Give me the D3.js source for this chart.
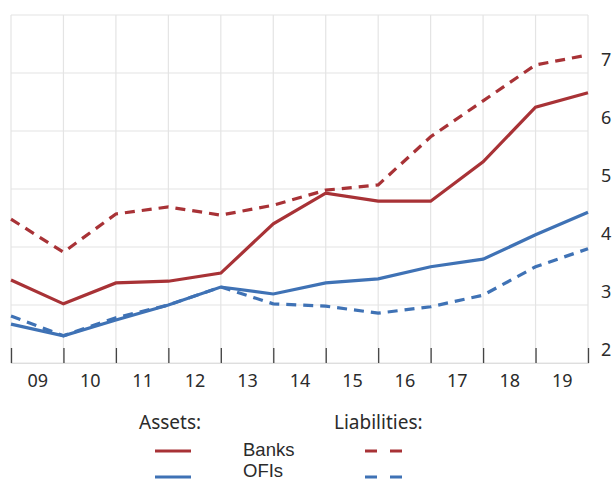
<!DOCTYPE html>
<html lang="en">
<head>
<meta charset="utf-8">
<title>Banks and OFIs</title>
<script src="https://cdn.jsdelivr.net/npm/d3@7"></script>
<style>
  body { margin: 0; background: #fff; overflow: hidden; }
  text { font-family: "Noto Sans", "Open Sans", sans-serif; fill: #2b2b2b; }
  text.legname { font-family: "Liberation Sans", Arial, sans-serif; }
</style>
</head>
<body>
<script>
// year labels sit between ticks, data points sit on the ticks (year ends)
var yearLabels = ["09","10","11","12","13","14","15","16","17","18","19"];
var yTicks = [2, 3, 4, 5, 6, 7];

var banksAssets = [3.43, 3.02, 3.38, 3.41, 3.55, 4.40, 4.93, 4.79, 4.79, 5.47, 6.41, 6.66];
var banksLiab   = [4.48, 3.91, 4.57, 4.69, 4.55, 4.72, 4.98, 5.07, 5.90, 6.52, 7.14, 7.31];
var ofiAssets   = [2.67, 2.47, 2.74, 3.00, 3.31, 3.19, 3.38, 3.45, 3.66, 3.79, 4.21, 4.60];
var ofiLiab     = [2.81, 2.47, 2.78, 3.00, 3.31, 3.02, 2.98, 2.86, 2.97, 3.17, 3.66, 3.97];

var red = "#a83236", blue = "#3f72b5";

var w = 613, h = 481;
var plot = {left: 11, right: 588, top: 15, bottom: 363};

var svg = d3.select("body").append("svg")
    .attr("width", w)
    .attr("height", h);

var x = d3.scaleLinear().domain([0, yearLabels.length]).range([plot.left, plot.right]);
var y = d3.scaleLinear().domain([2, 8]).range([plot.bottom, plot.top]);

// grid
svg.append("g").selectAll("line")
   .data(d3.range(0, yearLabels.length + 1))
   .enter().append("line")
   .attr("x1", d => x(d)).attr("x2", d => x(d))
   .attr("y1", plot.top).attr("y2", plot.bottom)
   .attr("stroke", "#e4e4e4").attr("stroke-width", 1.2);

svg.append("g").selectAll("line")
   .data(d3.range(2, 9))
   .enter().append("line")
   .attr("x1", plot.left).attr("x2", plot.right)
   .attr("y1", d => y(d)).attr("y2", d => y(d))
   .attr("stroke", "#e4e4e4").attr("stroke-width", 1.2);

// ticks pointing up from the bottom line
var tickAxis = d3.axisBottom(x)
    .tickValues(d3.range(0, yearLabels.length + 1))
    .tickSize(-15)
    .tickFormat("");
var gt = svg.append("g")
   .attr("transform", "translate(0," + plot.bottom + ")")
   .call(tickAxis);
gt.select(".domain").attr("stroke", "#dedede").attr("stroke-width", 1.2);
gt.selectAll(".tick line").attr("stroke", "#444").attr("stroke-width", 1.3);

var labelAxis = d3.axisBottom(x)
    .tickValues(yearLabels.map((d, i) => i + 0.5))
    .tickSize(0)
    .tickFormat((d, i) => yearLabels[i]);
var gl = svg.append("g")
   .attr("transform", "translate(0," + (plot.bottom + 8) + ")")
   .call(labelAxis);
gl.select(".domain").remove();
gl.selectAll("text").style("font-size", "18px").attr("fill", "#2b2b2b");

// right-hand value labels, sitting just above their grid lines
svg.append("g").selectAll("text")
   .data(yTicks)
   .enter().append("text")
   .attr("x", 601)
   .attr("y", d => y(d) - 7)
   .style("font-size", "18px")
   .text(d => d);

var line = d3.line()
    .x((d, i) => x(i))
    .y(d => y(d));

var series = [
  {v: banksLiab, c: red, dash: "10,7"},
  {v: ofiLiab, c: blue, dash: "10,7"},
  {v: ofiAssets, c: blue, dash: null},
  {v: banksAssets, c: red, dash: null}
];

svg.selectAll(".series")
   .data(series)
   .enter().append("path")
   .attr("class", "series")
   .attr("d", d => line(d.v))
   .attr("fill", "none")
   .attr("stroke", d => d.c)
   .attr("stroke-width", 3.2)
   .attr("stroke-dasharray", d => d.dash);

// legend
svg.append("text").attr("x", 139).attr("y", 429).style("font-size", "19px").text("Assets:");
svg.append("text").attr("x", 334).attr("y", 429).style("font-size", "19px").text("Liabilities:");

var legend = [
  {name: "Banks", c: red, y: 451, ty: 456},
  {name: "OFIs", c: blue, y: 477, ty: 477}
];
var lg = svg.selectAll(".leg").data(legend).enter().append("g");
lg.append("line")
  .attr("x1", 155).attr("x2", 191)
  .attr("y1", d => d.y).attr("y2", d => d.y)
  .attr("stroke", d => d.c).attr("stroke-width", 3);
lg.append("line")
  .attr("x1", 365).attr("x2", 402)
  .attr("y1", d => d.y).attr("y2", d => d.y)
  .attr("stroke", d => d.c).attr("stroke-width", 3)
  .attr("stroke-dasharray", "12,13");
lg.append("text")
  .attr("class", "legname")
  .attr("x", 243).attr("y", d => d.ty)
  .style("font-size", "18.5px")
  .text(d => d.name);
</script>
</body>
</html>
